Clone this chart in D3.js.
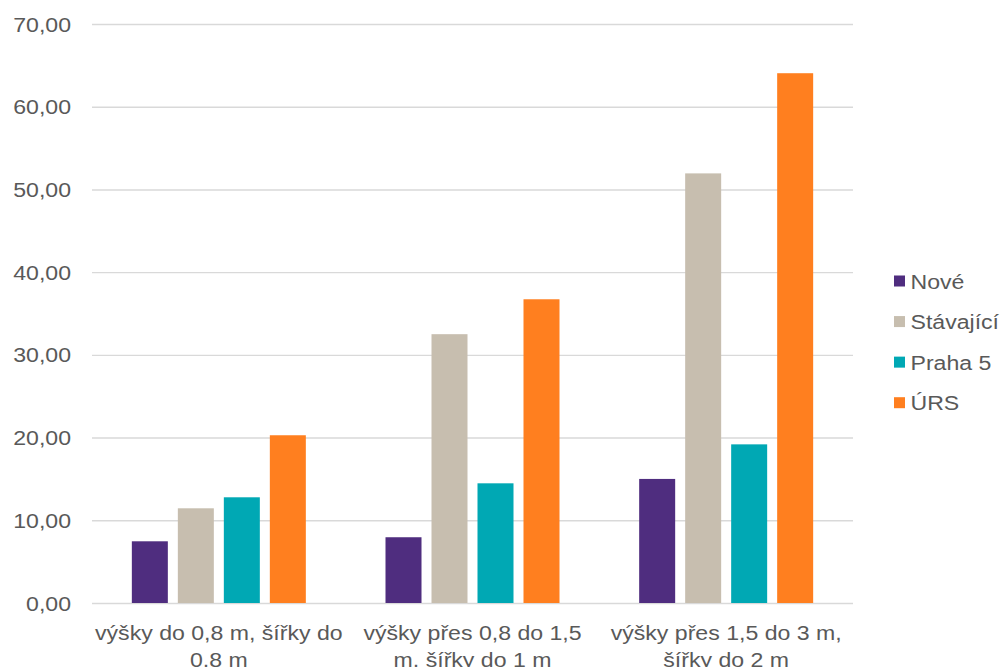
<!DOCTYPE html>
<html>
<head>
<meta charset="utf-8">
<script src="https://cdn.jsdelivr.net/npm/d3@7"></script>
<style>
  html, body { margin: 0; padding: 0; background: #fff; }
  svg text { font-family: "Liberation Sans", Arial, sans-serif; fill: #595959; }
</style>
</head>
<body>
<svg id="chart" width="1003" height="667"></svg>
<script>
const categories = [
  "výšky do 0,8 m, šířky do\n0,8 m",
  "výšky přes 0,8 do 1,5\nm, šířky do 1 m",
  "výšky přes 1,5 do 3 m,\nšířky do 2 m"
];
const seriesNames = ["Nové", "Stávající", "Praha 5", "ÚRS"];
const seriesColors = ["#4F2D7F", "#C7BEAF", "#00A8B4", "#FF7F1F"];
const valuesNove = [7.46, 7.95, 15.0];
const valuesStavajici = [11.45, 32.5, 51.94];
const valuesPraha5 = [12.78, 14.47, 19.18];
const valuesURS = [20.28, 36.72, 64.05];
const yTicks = [0, 10, 20, 30, 40, 50, 60, 70];

const seriesValues = [valuesNove, valuesStavajici, valuesPraha5, valuesURS];
const SX = 1.1; // horizontal text stretch
const FS = 21;

const svg = d3.select("#chart");
const mLeft = 92, mRight = 853, mTop = 24, mBottom = 603;

const y = d3.scaleLinear().domain([0, 70]).range([mBottom, mTop]);
const x0 = d3.scaleBand().domain(categories).range([mLeft, mRight]).paddingInner(0).paddingOuter(0);
const x1 = d3.scaleBand().domain(seriesNames).range([0, x0.bandwidth()])
  .paddingInner(10 / 46).paddingOuter(0.866);
const color = d3.scaleOrdinal().domain(seriesNames).range(seriesColors);

// gridlines
const yAxis = d3.axisLeft(y).tickValues(yTicks).tickSize(-(mRight - mLeft)).tickFormat("");
const gy = svg.append("g").attr("transform", `translate(${mLeft},0)`).call(yAxis);
gy.select(".domain").remove();
gy.selectAll(".tick line").attr("stroke", "#d9d9d9").attr("stroke-width", 1.4);

// y labels
const fmt = v => d3.format(".2f")(v).replace(".", ",");
svg.append("g").selectAll("text").data(yTicks).join("text")
  .attr("transform", d => `translate(71,${y(d)}) scale(${SX},1)`)
  .attr("text-anchor", "end")
  .attr("dy", "0.36em")
  .style("font-size", FS + "px")
  .text(fmt);

// bars
const groups = svg.append("g").selectAll("g").data(categories).join("g")
  .attr("transform", d => `translate(${x0(d)},0)`);
groups.selectAll("rect")
  .data((c, i) => seriesNames.map((s, j) => ({ s, v: seriesValues[j][i] })))
  .join("rect")
  .attr("x", d => x1(d.s))
  .attr("width", x1.bandwidth())
  .attr("y", d => y(d.v))
  .attr("height", d => y(0) - y(d.v))
  .attr("fill", d => color(d.s));

// x labels
const xl = svg.append("g").selectAll("g").data(categories).join("g")
  .attr("transform", d => `translate(${x0(d) + x0.bandwidth() / 2},0)`);
xl.selectAll("text").data(d => d.split("\n")).join("text")
  .attr("transform", (d, i) => `translate(0,${639.5 + i * 27.5}) scale(${SX},1)`)
  .attr("text-anchor", "middle")
  .style("font-size", FS + "px")
  .text(d => d);

// legend
const legendY = d3.scalePoint().domain(seriesNames).range([281, 402.7]);
const lg = svg.append("g").selectAll("g").data(seriesNames).join("g")
  .attr("transform", d => `translate(894,${legendY(d)})`);
lg.append("rect").attr("x", 0).attr("y", -5.5).attr("width", 11).attr("height", 11)
  .attr("fill", d => color(d));
lg.append("text")
  .attr("transform", `translate(16.5,0) scale(${SX},1)`)
  .attr("dy", "0.36em")
  .style("font-size", FS + "px")
  .text(d => d);
</script>
</body>
</html>
